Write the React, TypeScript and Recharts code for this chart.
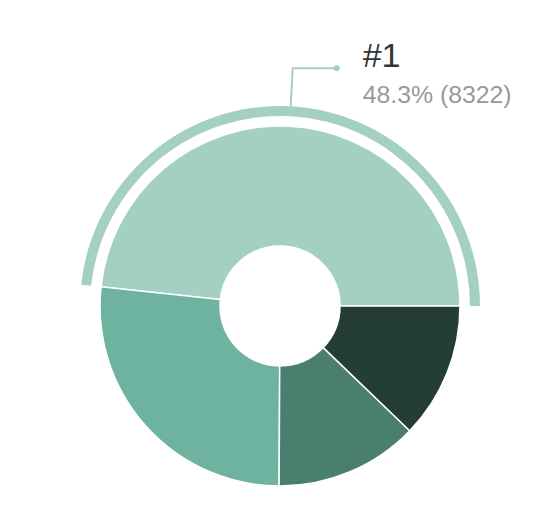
import React from 'react';
import { PieChart, Pie, Cell, Sector } from 'recharts';

const names = ['#1', '#2', '#3', '#4'];
const values = [8322, 4587, 2221, 2100];
const colors = ['#a4d0c4', '#6db3a0', '#4a7e6f', '#243e37'];

const data = names.map((name, i) => ({ name, value: values[i] }));

const RADIAN = Math.PI / 180;

// highlight ring + callout for the first slice only
const renderLabel = (props: any) => {
  const { cx, cy, midAngle, outerRadius, startAngle, endAngle, percent, value, index, name } = props;
  if (index !== 0) return null;
  const sin = Math.sin(-RADIAN * midAngle);
  const cos = Math.cos(-RADIAN * midAngle);
  const sx = cx + (outerRadius + 20) * cos;
  const sy = cy + (outerRadius + 20) * sin;
  const mx = cx + (outerRadius + 58) * cos;
  const my = cy + (outerRadius + 58) * sin;
  const ex = mx + (cos >= 0 ? 1 : -1) * 44;
  const ey = my;
  const color = colors[0];
  return (
    <g>
      <Sector
        cx={cx}
        cy={cy}
        startAngle={startAngle}
        endAngle={endAngle}
        innerRadius={outerRadius + 10}
        outerRadius={outerRadius + 20}
        fill={color}
      />
      <path d={`M${sx},${sy}L${mx},${my}L${ex},${ey}`} stroke={color} strokeWidth={2} fill="none" />
      <circle cx={ex} cy={ey} r={3} fill={color} stroke="none" />
      <text x={ex + 26} y={ey - 1.5} textAnchor="start" fill="#333" fontSize={34}>
        {name}
      </text>
      <text x={ex + 26} y={ey + 34.5} textAnchor="start" fill="#999" fontSize={24.8}>
        {`${(percent * 100).toFixed(1)}% (${value})`}
      </text>
    </g>
  );
};

export default function App() {
  return (
    <div style={{ width: 532, height: 502, fontFamily: '"Liberation Sans", Arial, sans-serif' }}>
      <PieChart width={532} height={502}>
        <Pie
          data={data}
          dataKey="value"
          nameKey="name"
          cx={267}
          cy={293}
          innerRadius={60}
          outerRadius={180}
          startAngle={0}
          endAngle={360}
          stroke="#fff"
          strokeWidth={1.5}
          label={renderLabel}
          labelLine={false}
          isAnimationActive={false}
        >
          {data.map((d, i) => (
            <Cell key={d.name} fill={colors[i]} />
          ))}
        </Pie>
      </PieChart>
    </div>
  );
}
